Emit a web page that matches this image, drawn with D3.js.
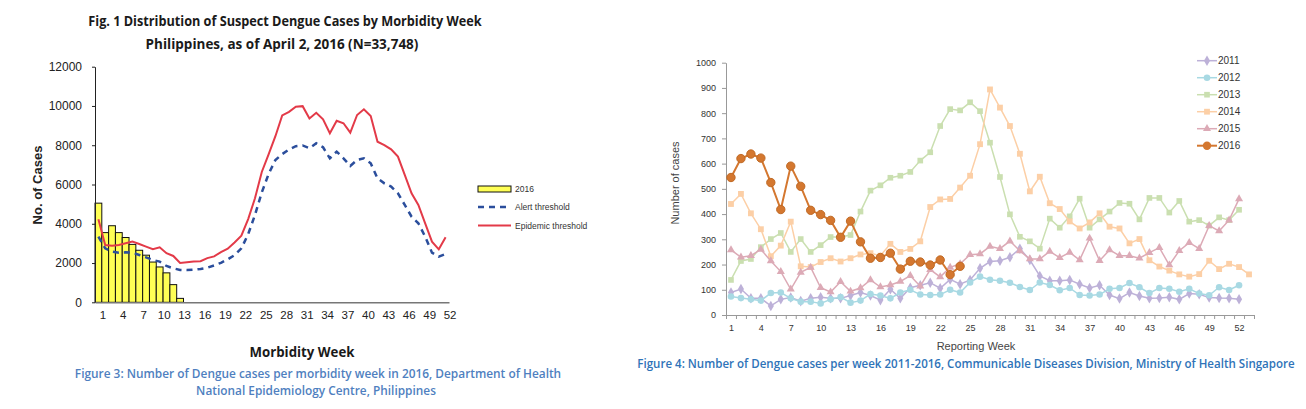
<!DOCTYPE html>
<html>
<head>
<meta charset="utf-8">
<script src="https://cdn.jsdelivr.net/npm/d3@7"></script>
<style>
  body { margin: 0; background: #fff; }
  svg { display: block; }
</style>
</head>
<body>
<svg id="chart" width="1306" height="409"></svg>
<script>
// ---- Philippines data (left chart) ----
const phWeekTicks = d3.range(1, 53, 3);
const phCases2016 = [5050, 3550, 3900, 3550, 3300, 2950, 2650, 2400, 2050, 1800, 1500, 900, 200];
const phAlert = [3345, 2750, 2580, 2530, 2547, 2530, 2410, 2292, 2156, 2071, 1850, 1732, 1650,
  1640, 1660, 1700, 1760, 1880, 2010, 2190, 2400, 2750, 3470, 4450, 5600, 6530,
  7250, 7550, 7780, 7950, 7990, 7850, 8098, 7895, 7334, 7674, 7334, 6944, 7250,
  7334, 7080, 6316, 6061, 5891, 5552, 4958, 4363, 4024, 3345, 2530, 2326, 2462];
const phEpidemic = [4227, 2920, 2886, 2920, 3005, 3090, 2970, 2835, 2700, 2800, 2500, 2360, 2000,
  2040, 2080, 2090, 2250, 2340, 2560, 2730, 3050, 3390, 4240, 5300, 6640, 7530,
  8460, 9520, 9700, 9966, 9990, 9360, 9650, 9320, 8610, 9250, 9120, 8640, 9540,
  9830, 9490, 8180, 8010, 7790, 7420, 6490, 5550, 4960, 4020, 3090, 2700, 3310];
const phYTicks = [0, 2000, 4000, 6000, 8000, 10000, 12000];

// ---- Singapore data (right chart) ----
const sgYears = ['2011', '2012', '2013', '2014', '2015', '2016'];
const sg2011 = [89, 103, 66, 66, 36, 62, 69, 55, 66, 70, 66, 66, 77, 89, 77, 59, 102, 66, 108,
  118, 128, 106, 141, 122, 139, 185, 212, 215, 229, 263, 218, 155, 136, 136, 139, 122,
  107, 118, 79, 65, 89, 75, 66, 67, 70, 62, 85, 82, 69, 67, 66, 62];
const sg2012 = [73, 67, 62, 57, 87, 89, 66, 53, 53, 46, 62, 71, 49, 57, 83, 77, 66, 89, 100,
  81, 79, 81, 100, 89, 129, 152, 140, 136, 128, 111, 99, 129, 119, 98, 107, 79, 77, 81,
  104, 107, 127, 110, 87, 107, 104, 92, 104, 85, 78, 110, 99, 118];
const sg2013 = [139, 214, 222, 269, 301, 325, 250, 301, 250, 277, 309, 309, 317, 410, 493, 514,
  544, 552, 567, 612, 645, 749, 816, 811, 843, 808, 683, 547, 399, 310, 292, 263, 382,
  346, 391, 461, 346, 379, 410, 444, 441, 379, 464, 464, 406, 452, 370, 376, 354, 387,
  376, 417];
const sg2014 = [440, 480, 403, 340, 233, 275, 370, 193, 190, 210, 225, 212, 225, 240, 245, 235,
  282, 250, 262, 292, 428, 458, 460, 505, 552, 677, 894, 822, 749, 639, 490, 548, 443,
  420, 371, 343, 367, 403, 350, 343, 284, 301, 217, 192, 176, 161, 152, 162, 215, 182,
  203, 190, 161];
const sg2015 = [258, 229, 235, 260, 214, 172, 102, 169, 189, 108, 91, 132, 94, 107, 139, 111,
  119, 133, 156, 114, 180, 151, 189, 203, 239, 242, 272, 263, 293, 254, 222, 222, 252,
  227, 248, 218, 304, 215, 258, 235, 235, 225, 247, 267, 198, 255, 287, 263, 354, 333,
  376, 460];
const sg2016 = [545, 620, 638, 622, 525, 418, 590, 510, 415, 398, 375, 308, 372, 290, 225, 228,
  245, 182, 213, 210, 198, 218, 160, 193];
const sgSeries = [sg2011, sg2012, sg2013, sg2014, sg2015, sg2016];
const sgWeekTicks = d3.range(1, 53, 3);
const sgYTicks = d3.range(0, 1001, 100);

const svg = d3.select('#chart');
svg.append('rect').attr('width', 1306).attr('height', 409).attr('fill', '#fff');

// squeeze a text horizontally so it spans `width` px (Calibri is narrower than what we have)
function fitText(sel, cx, y, width) {
  const w = sel.node().getComputedTextLength();
  sel.attr('x', 0).attr('y', 0)
    .attr('transform', `translate(${cx},${y}) scale(${width / w},1)`);
}

// ===================== left chart =====================
const ph = svg.append('g');
const px = d3.scaleLinear().domain([0.5, 52.5]).range([95, 449]);
const py = d3.scaleLinear().domain([0, 12000]).range([302.3, 66.7]);

const title1 = ph.append('text')
  .attr('text-anchor', 'middle')
  .attr('font-family', 'Open Sans, sans-serif').attr('font-weight', 'bold')
  .attr('font-size', 15).attr('fill', '#1a1a1a')
  .text('Fig. 1 Distribution of Suspect Dengue Cases by Morbidity Week');
fitText(title1, 285, 26, 394);
const title2 = ph.append('text')
  .attr('text-anchor', 'middle')
  .attr('font-family', 'Open Sans, sans-serif').attr('font-weight', 'bold')
  .attr('font-size', 15).attr('fill', '#1a1a1a')
  .text('Philippines, as of April 2, 2016 (N=33,748)');
fitText(title2, 282, 49, 273);

// bars
ph.append('g')
  .selectAll('rect')
  .data(phCases2016)
  .join('rect')
  .attr('x', (d, i) => px(i + 0.5))
  .attr('width', px(1.5) - px(0.5))
  .attr('y', d => py(d))
  .attr('height', d => py(0) - py(d))
  .attr('fill', '#ffff55')
  .attr('stroke', '#111')
  .attr('stroke-width', 1);

const phLine = d3.line()
  .x((d, i) => px(i + 1))
  .y(d => py(d));

ph.append('path')
  .datum(phAlert)
  .attr('d', phLine)
  .attr('fill', 'none')
  .attr('stroke', '#2b4e9c')
  .attr('stroke-width', 2.5)
  .attr('stroke-dasharray', '6,5');

ph.append('path')
  .datum(phEpidemic)
  .attr('d', phLine)
  .attr('fill', 'none')
  .attr('stroke', '#e33a48')
  .attr('stroke-width', 2);

// axes
const phYAxis = ph.append('g')
  .attr('transform', `translate(${px(0.5)},0)`)
  .call(d3.axisLeft(py).tickValues(phYTicks).tickFormat(d3.format('d'))
    .tickSize(3).tickPadding(10).tickSizeOuter(0));
phYAxis.select('.domain').attr('stroke', '#222');
phYAxis.selectAll('.tick line').attr('stroke', '#222');
phYAxis.selectAll('text')
  .attr('font-family', 'Liberation Sans, Arial, sans-serif')
  .attr('font-size', 12).attr('fill', '#222');

const phXAxis = ph.append('g')
  .attr('transform', `translate(0,${py(0)})`)
  .call(d3.axisBottom(px).tickValues(phWeekTicks).tickSize(0).tickPadding(9).tickSizeOuter(0));
phXAxis.select('.domain').attr('stroke', '#777').attr('stroke-width', 1.5);
phXAxis.selectAll('text')
  .attr('dx', 4)
  .attr('font-family', 'Liberation Sans, Arial, sans-serif')
  .attr('font-size', 11.5).attr('fill', '#222');

ph.append('text')
  .attr('transform', 'translate(42,185) rotate(-90)')
  .attr('text-anchor', 'middle')
  .attr('font-family', 'Liberation Sans, Arial, sans-serif').attr('font-weight', 'bold')
  .attr('font-size', 13).attr('fill', '#222')
  .text('No. of Cases');

const xTitle = ph.append('text')
  .attr('text-anchor', 'middle')
  .attr('font-family', 'Open Sans, sans-serif').attr('font-weight', 'bold')
  .attr('font-size', 14).attr('fill', '#1a1a1a')
  .text('Morbidity Week');
fitText(xTitle, 302, 357, 105);

// legend
const phLegend = ph.append('g').attr('font-family', 'Liberation Sans, Arial, sans-serif')
  .attr('font-size', 8.5).attr('fill', '#333');
phLegend.append('rect').attr('x', 478).attr('y', 186).attr('width', 33).attr('height', 6)
  .attr('fill', '#ffff55').attr('stroke', '#111').attr('stroke-width', 1);
phLegend.append('line').attr('x1', 478).attr('x2', 510).attr('y1', 207).attr('y2', 207)
  .attr('stroke', '#2b4e9c').attr('stroke-width', 2.5).attr('stroke-dasharray', '6,5');
phLegend.append('line').attr('x1', 478).attr('x2', 511).attr('y1', 225.5).attr('y2', 225.5)
  .attr('stroke', '#e33a48').attr('stroke-width', 2);
phLegend.selectAll('text')
  .data(['2016', 'Alert threshold', 'Epidemic threshold'])
  .join('text')
  .attr('x', 515)
  .attr('y', (d, i) => [192, 210, 229][i])
  .text(d => d);

// caption
const capL = ph.append('g')
  .attr('font-family', 'Open Sans, sans-serif').attr('font-weight', 600)
  .attr('font-size', 12).attr('fill', '#4f7fc0').attr('text-anchor', 'middle');
fitText(capL.append('text')
  .text('Figure 3: Number of Dengue cases per morbidity week in 2016, Department of Health'), 318, 378, 487);
fitText(capL.append('text')
  .text('National Epidemiology Centre, Philippines'), 316, 395, 240);

// ===================== right chart =====================
const sg = svg.append('g');
const sx = d3.scaleLinear().domain([0.5, 53.5]).range([726, 1254]);
const sy = d3.scaleLinear().domain([0, 1000]).range([315, 62.7]);

const sgColors = ['#bdb1d8', '#a8d9e3', '#cadfb0', '#fccfa6', '#dcaab6', '#d4772f'];
const sgShapes = [d3.symbolDiamond, d3.symbolCircle, d3.symbolSquare, d3.symbolSquare, d3.symbolTriangle, d3.symbolCircle];
const sgSizes = [32, 34, 32, 34, 28, 55];

const sgYAxis = sg.append('g')
  .attr('transform', `translate(${sx(0.5)},0)`)
  .call(d3.axisLeft(sy).tickValues(sgYTicks).tickFormat(d3.format('d'))
    .tickSize(4).tickPadding(6).tickSizeOuter(0));
sgYAxis.select('.domain').attr('stroke', '#999');
sgYAxis.selectAll('.tick line').attr('stroke', '#999');
sgYAxis.selectAll('text')
  .attr('font-family', 'Liberation Sans, Arial, sans-serif')
  .attr('font-size', 9).attr('fill', '#333');

const sgXTicks = sg.append('g')
  .attr('transform', `translate(0,${sy(0)})`)
  .call(d3.axisBottom(sx).tickValues(d3.range(0.5, 54, 1)).tickSize(4).tickFormat('').tickSizeOuter(0));
sgXTicks.select('.domain').attr('stroke', '#999');
sgXTicks.selectAll('.tick line').attr('stroke', '#999');

const sgXLabels = sg.append('g')
  .attr('transform', `translate(0,${sy(0)})`)
  .call(d3.axisBottom(sx).tickValues(sgWeekTicks).tickSize(0).tickPadding(10));
sgXLabels.select('.domain').remove();
sgXLabels.selectAll('text')
  .attr('font-family', 'Liberation Sans, Arial, sans-serif')
  .attr('font-size', 9).attr('fill', '#333');

const sgLine = d3.line()
  .x((d, i) => sx(i + 1))
  .y(d => sy(d));

sgSeries.forEach((values, k) => {
  const g = sg.append('g');
  g.append('path')
    .datum(values)
    .attr('d', sgLine)
    .attr('fill', 'none')
    .attr('stroke', sgColors[k])
    .attr('stroke-width', k === 5 ? 2 : 1.5);
  g.selectAll('path.pt')
    .data(values)
    .join('path')
    .attr('class', 'pt')
    .attr('transform', (d, i) => `translate(${sx(i + 1)},${sy(d)})`)
    .attr('d', d3.symbol().type(sgShapes[k]).size(sgSizes[k]))
    .attr('fill', sgColors[k])
    .attr('stroke', k === 5 ? '#c06a25' : 'none');
});

// axis titles
sg.append('text')
  .attr('transform', 'translate(679,183) rotate(-90)')
  .attr('text-anchor', 'middle')
  .attr('font-family', 'Liberation Sans, Arial, sans-serif')
  .attr('font-size', 11).attr('fill', '#444')
  .text('Number of cases');
sg.append('text')
  .attr('x', 976).attr('y', 350)
  .attr('text-anchor', 'middle')
  .attr('font-family', 'Liberation Sans, Arial, sans-serif')
  .attr('font-size', 11).attr('fill', '#444')
  .text('Reporting Week');

// legend
const sgLegend = sg.append('g');
sgYears.forEach((yr, k) => {
  const y = 60.7 + k * 17;
  sgLegend.append('line')
    .attr('x1', 1197).attr('x2', 1217).attr('y1', y).attr('y2', y)
    .attr('stroke', sgColors[k]).attr('stroke-width', k === 5 ? 2 : 1.5);
  sgLegend.append('path')
    .attr('transform', `translate(1207,${y})`)
    .attr('d', d3.symbol().type(sgShapes[k]).size(sgSizes[k]))
    .attr('fill', sgColors[k]);
  sgLegend.append('text')
    .attr('x', 1218).attr('y', y + 3.5)
    .attr('font-family', 'Liberation Sans, Arial, sans-serif')
    .attr('font-size', 10).attr('fill', '#333')
    .text(yr);
});

// caption
const capR = sg.append('text')
  .attr('text-anchor', 'middle')
  .attr('font-family', 'Open Sans, sans-serif').attr('font-weight', 600)
  .attr('font-size', 12).attr('fill', '#2e73b8')
  .text('Figure 4: Number of Dengue cases per week 2011-2016, Communicable Diseases Division, Ministry of Health Singapore');
fitText(capR, 966, 368, 658);
</script>
</body>
</html>
